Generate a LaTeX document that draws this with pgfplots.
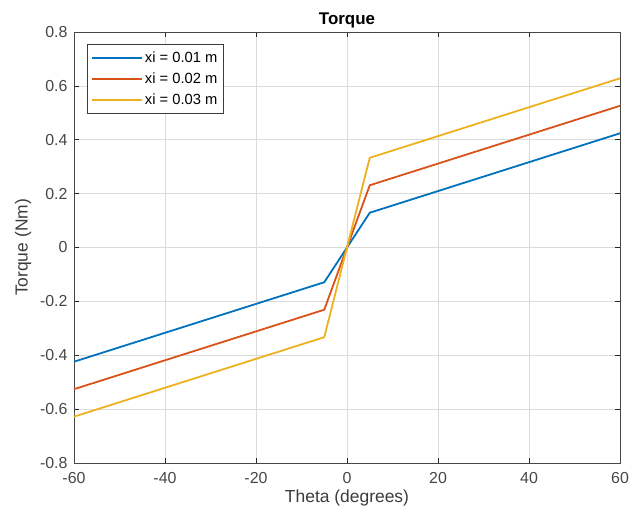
\documentclass[border=0pt]{standalone}
\usepackage{pgfplots}
\pgfplotsset{compat=1.18}
\usepackage{fontspec}
\setmainfont{Liberation Sans}
\definecolor{mblue}{rgb}{0,0.447,0.741}
\definecolor{mred}{rgb}{0.85,0.325,0.098}
\definecolor{myellow}{rgb}{0.929,0.694,0.125}
\definecolor{axgray}{rgb}{0.15,0.15,0.15}
\begin{document}
\begin{tikzpicture}
\useasboundingbox (-74bp,-56bp) rectangle (560bp,463bp);
\begin{axis}[
  scale only axis,
  width=546bp, height=431bp,
  at={(0,0)}, anchor=south west,
  xmin=-60, xmax=60, ymin=-0.8, ymax=0.8,
  xtick={-60,-40,...,60},
  ytick={-0.8,-0.6,...,0.8},
  /pgf/number format/assume math mode=true,
  yticklabel style={/pgf/number format/fixed,/pgf/number format/precision=1, xshift=-3bp},
  xticklabel style={yshift=-6bp},
  ticklabel style={font=\fontsize{16}{19}\selectfont, text=axgray!85},
  label style={font=\fontsize{17.5}{21}\selectfont, text=axgray!90},
  title style={font=\bfseries\fontsize{17}{20}\selectfont, text=black, yshift=-6bp},
  title={Torque},
  xlabel={Theta (degrees)},
  ylabel={Torque (Nm)},
  xlabel style={yshift=1bp},
  ylabel style={yshift=2bp},
  grid=major,
  major grid style={color=black!14, line width=0.6pt},
  axis line style={color=axgray!85, line width=0.7pt},
  tick style={color=axgray, line width=0.7pt},
  tick align=inside,
  major tick length=5bp,
  legend style={at={(13bp,419bp)}, anchor=north west, draw=axgray!90,
    font=\fontsize{14.8}{17}\selectfont, inner xsep=4bp, inner ysep=6bp, row sep=4.5bp},
  legend cell align=left,
]
\addlegendimage{color=mblue, legend image code/.code={\draw[color=mblue, line width=1.8bp] (0bp,0bp) -- (50bp,0bp);}}
\addlegendentry{xi = 0.01 m}
\addlegendimage{color=mred, legend image code/.code={\draw[color=mred, line width=1.8bp] (0bp,0bp) -- (50bp,0bp);}}
\addlegendentry{xi = 0.02 m}
\addlegendimage{color=myellow, legend image code/.code={\draw[color=myellow, line width=1.8bp] (0bp,0bp) -- (50bp,0bp);}}
\addlegendentry{xi = 0.03 m}
\addplot[color=mblue, line width=1.8bp, forget plot] coordinates {(-60,-0.424) (-5,-0.129) (0,0) (5,0.129) (60,0.424)};
\addplot[color=mred, line width=1.8bp, forget plot] coordinates {(-60,-0.526) (-5,-0.231) (0,0) (5,0.231) (60,0.526)};
\addplot[color=myellow, line width=1.8bp, forget plot] coordinates {(-60,-0.628) (-5,-0.333) (0,0) (5,0.333) (60,0.628)};
\end{axis}
\end{tikzpicture}
\end{document}
